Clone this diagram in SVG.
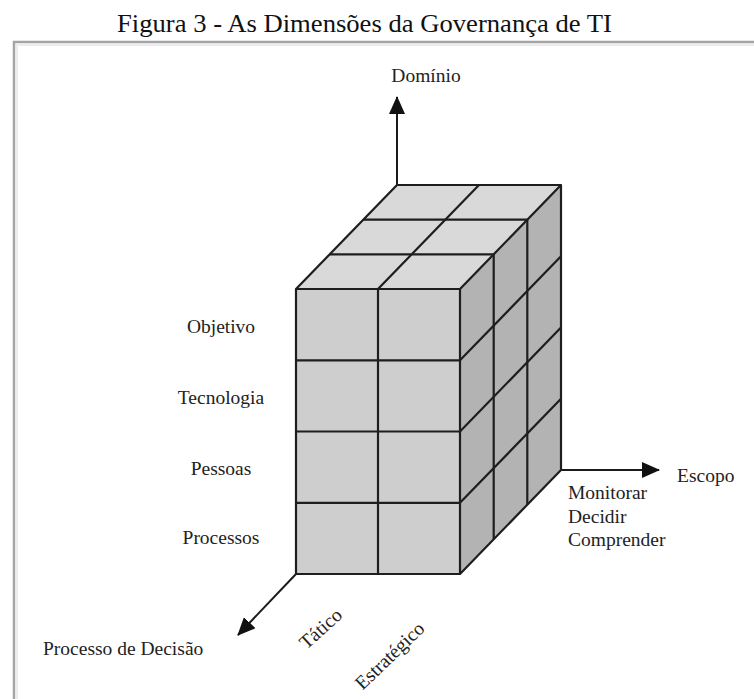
<svg xmlns="http://www.w3.org/2000/svg" width="754" height="699" viewBox="0 0 754 699">
  <style>
    .lbl { font-family: "Liberation Serif", "Times New Roman", serif; font-size: 19.5px; fill: #222; }
    .title { font-family: "Liberation Serif", "Times New Roman", serif; font-size: 25.5px; fill: #111; }
    .axis { stroke: #1a1a1a; stroke-width: 2; fill: none; }
    .edge { stroke: #1e1e1e; stroke-width: 2.2; fill: none; stroke-linejoin: round; }
    .front { fill: #cecece; }
    .top { fill: #d9d9d9; }
    .side { fill: #b3b3b3; }
  </style>
  <defs>
    <marker id="arrow" viewBox="0 0 18 16" refX="17" refY="8" markerWidth="18" markerHeight="16" markerUnits="userSpaceOnUse" orient="auto">
      <path d="M0,0 L18,8 L0,16 Z" fill="#111"/>
    </marker>
  </defs>

  <rect width="754" height="699" fill="#ffffff"/>

  <!-- title -->
  <text class="title" x="117" y="32" textLength="495" lengthAdjust="spacingAndGlyphs">Figura 3 - As Dimensões da Governança de TI</text>

  <!-- frame -->
  <path d="M17,699 V45 H754" stroke="#ececec" stroke-width="2" fill="none"/>
  <path d="M14,699 V42 H754" stroke="#a4a4a4" stroke-width="2.5" fill="none"/>

  <!-- axes -->
  <g id="connectors">
    <line class="axis" x1="397" y1="185" x2="397" y2="97" marker-end="url(#arrow)"/>
    <line class="axis" x1="561" y1="470" x2="659" y2="470" marker-end="url(#arrow)"/>
    <line class="axis" x1="296" y1="574" x2="238" y2="635" marker-end="url(#arrow)"/>
  </g>

  <!-- cube -->
  <g id="cube">
    <polygon class="top" points="296,289 460,289 561,185 397,185"/>
    <polygon class="side" points="460,289 561,185 561,470 460,574"/>
    <rect class="front" x="296" y="289" width="164" height="285"/>
    <!-- top face grid -->
    <line class="edge" x1="329.7" y1="254.3" x2="493.7" y2="254.3"/>
    <line class="edge" x1="363.3" y1="219.7" x2="527.3" y2="219.7"/>
    <line class="edge" x1="378" y1="289" x2="479" y2="185"/>
    <!-- side face grid -->
    <line class="edge" x1="493.7" y1="254.3" x2="493.7" y2="539.3"/>
    <line class="edge" x1="527.3" y1="219.7" x2="527.3" y2="504.7"/>
    <line class="edge" x1="460" y1="360.3" x2="561" y2="256.3"/>
    <line class="edge" x1="460" y1="431.5" x2="561" y2="327.5"/>
    <line class="edge" x1="460" y1="502.8" x2="561" y2="398.8"/>
    <!-- front face grid -->
    <line class="edge" x1="378" y1="289" x2="378" y2="574"/>
    <line class="edge" x1="296" y1="360.3" x2="460" y2="360.3"/>
    <line class="edge" x1="296" y1="431.5" x2="460" y2="431.5"/>
    <line class="edge" x1="296" y1="502.8" x2="460" y2="502.8"/>
    <!-- outline -->
    <path class="edge" stroke-width="2.6" d="M296,289 L397,185 H561 V470 L460,574 H296 Z M296,289 H460 L561,185 M460,289 V574"/>
  </g>

  <!-- axis labels -->
  <g id="dominio"><text class="lbl" x="426" y="82" text-anchor="middle">Domínio</text></g>
  <g id="escopo"><text class="lbl" x="677" y="482">Escopo</text></g>
  <g id="escopo-valores">
    <text class="lbl" x="568" y="499">Monitorar</text>
    <text class="lbl" x="568" y="523">Decidir</text>
    <text class="lbl" x="568" y="546">Comprender</text>
  </g>
  <g id="decisao"><text class="lbl" x="43" y="655">Processo de Decisão</text></g>
  <g id="tatico"><text class="lbl" transform="translate(321,629) rotate(-42)" x="0" y="6" text-anchor="middle">Tático</text></g>
  <g id="estrategico"><text class="lbl" transform="translate(390,656) rotate(-44)" x="0" y="6" text-anchor="middle">Estratégico</text></g>

  <!-- domain labels -->
  <g id="objetivo"><text class="lbl" x="221" y="333" text-anchor="middle">Objetivo</text></g>
  <g id="tecnologia"><text class="lbl" x="221" y="404" text-anchor="middle">Tecnologia</text></g>
  <g id="pessoas"><text class="lbl" x="221" y="475" text-anchor="middle">Pessoas</text></g>
  <g id="processos"><text class="lbl" x="221" y="544" text-anchor="middle">Processos</text></g>
</svg>
